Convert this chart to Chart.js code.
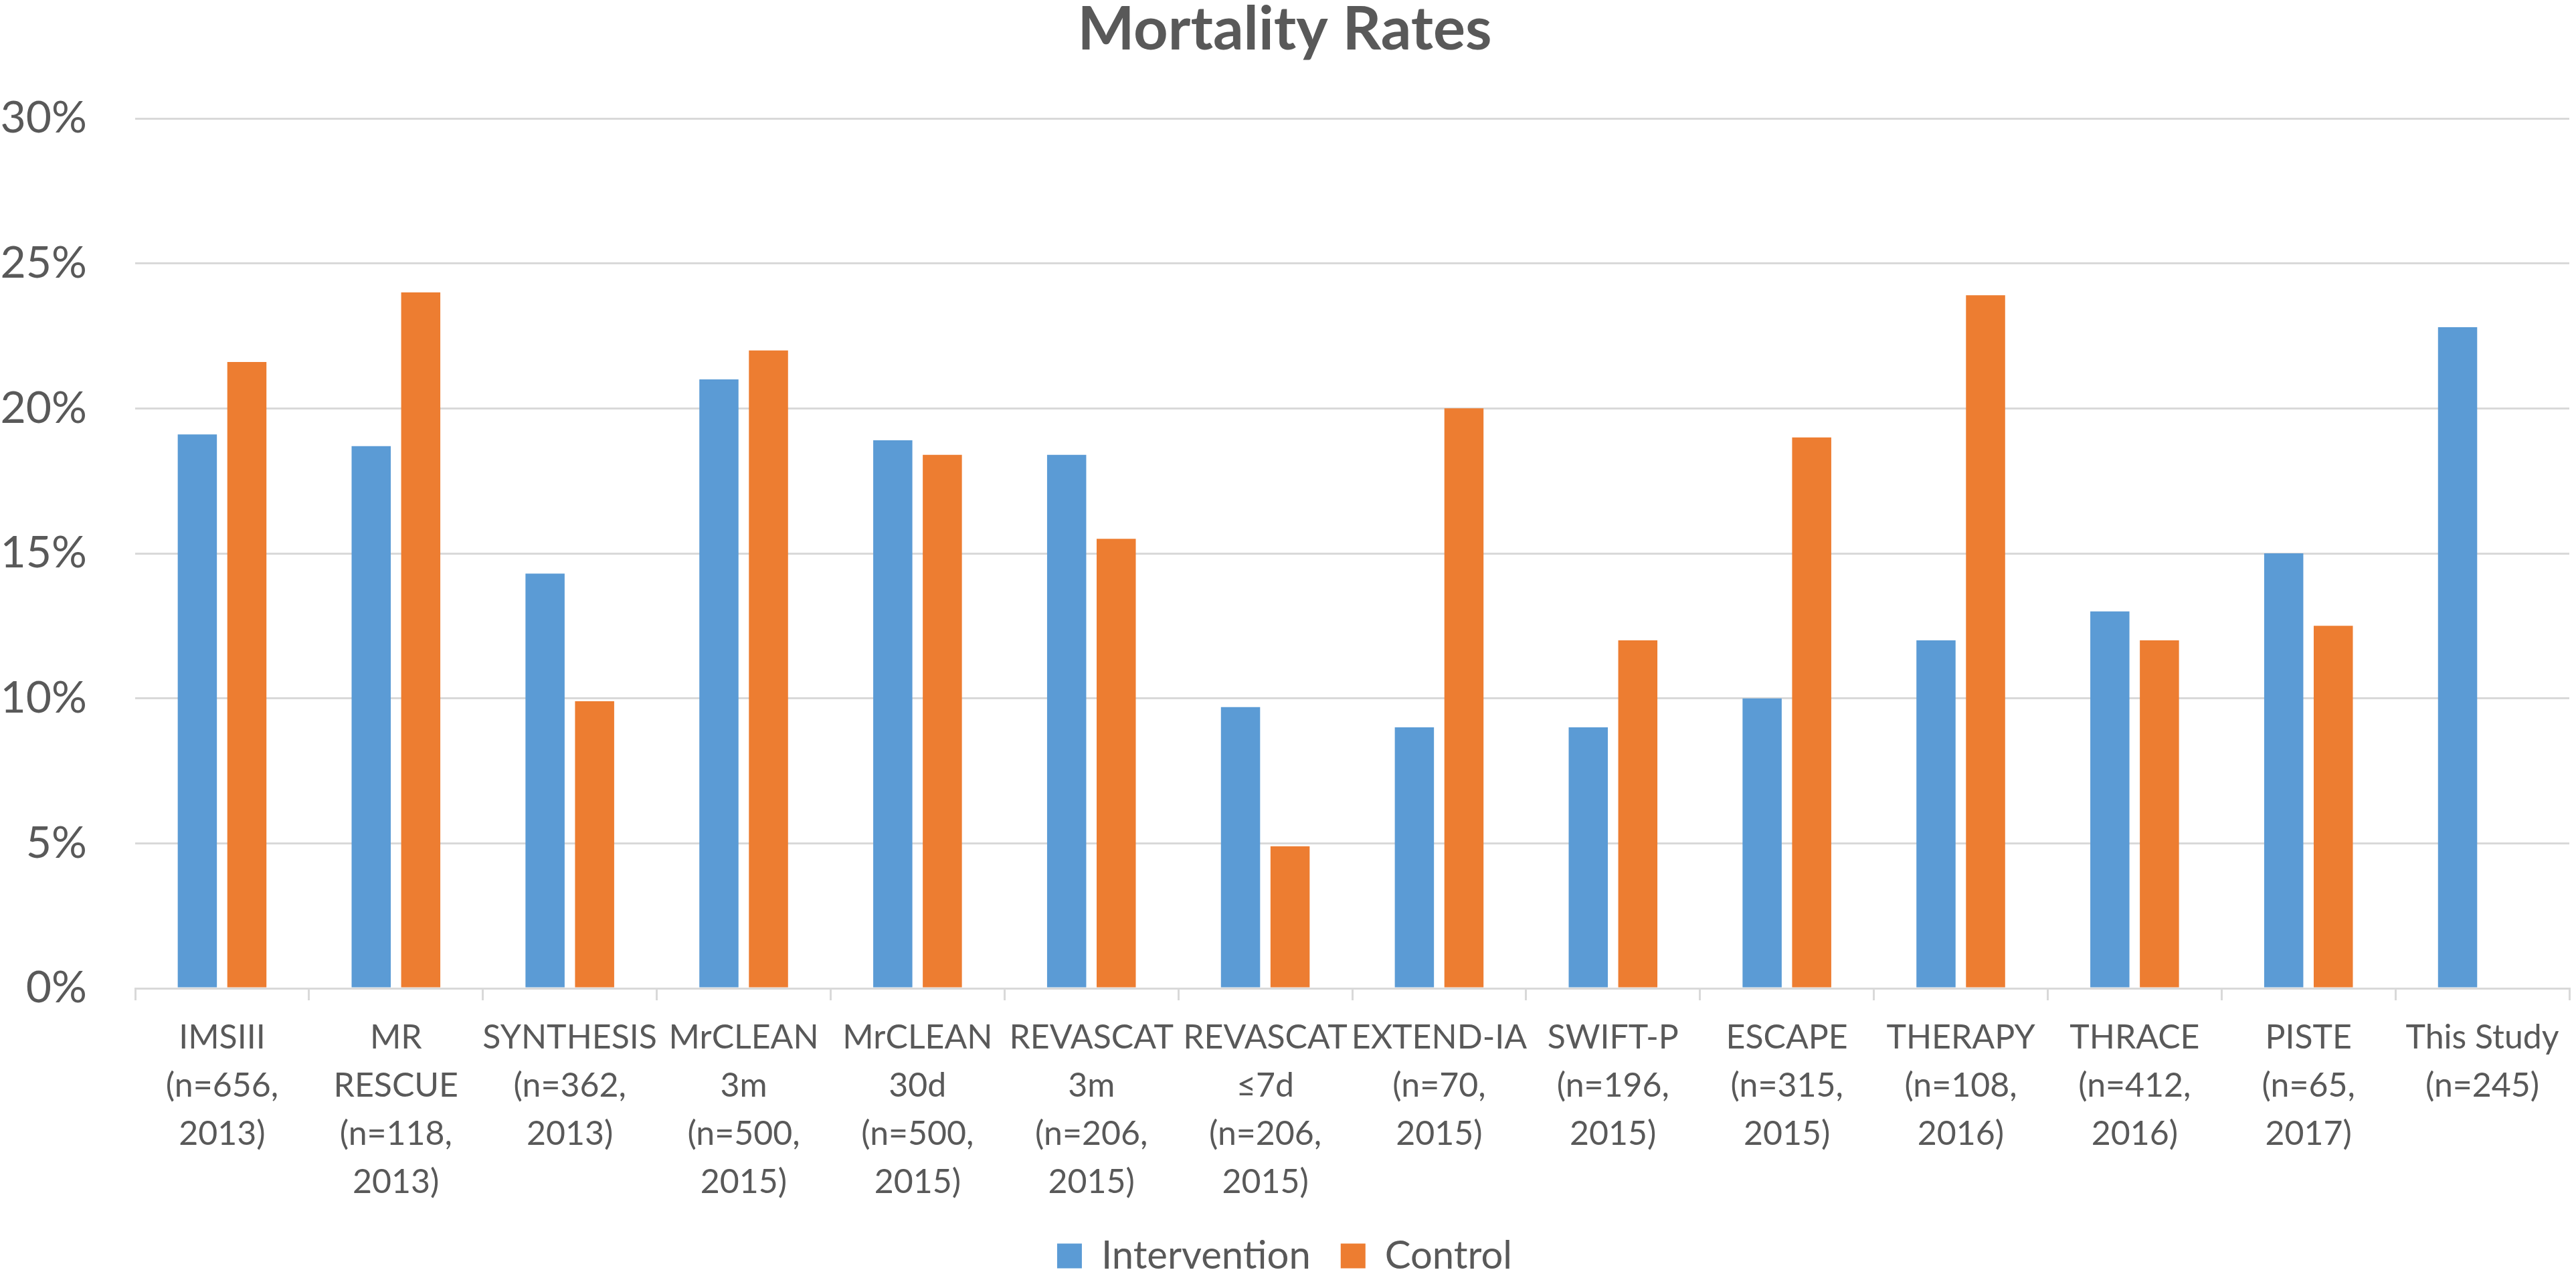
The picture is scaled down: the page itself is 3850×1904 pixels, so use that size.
<!DOCTYPE html>
<html>
<head>
<meta charset="utf-8">
<script src="https://cdn.jsdelivr.net/npm/chart.js@4"></script>
<style>
html,body{margin:0;padding:0;background:#ffffff;}
canvas{display:block;}
</style>
</head>
<body>
<canvas id="c" width="3850" height="1904"></canvas>
<script>
const categories = [
  ["IMSIII","(n=656,","2013)"],
  ["MR","RESCUE","(n=118,","2013)"],
  ["SYNTHESIS","(n=362,","2013)"],
  ["MrCLEAN","3m","(n=500,","2015)"],
  ["MrCLEAN","30d","(n=500,","2015)"],
  ["REVASCAT","3m","(n=206,","2015)"],
  ["REVASCAT","\u22647d","(n=206,","2015)"],
  ["EXTEND-IA","(n=70,","2015)"],
  ["SWIFT-P","(n=196,","2015)"],
  ["ESCAPE","(n=315,","2015)"],
  ["THERAPY","(n=108,","2016)"],
  ["THRACE","(n=412,","2016)"],
  ["PISTE","(n=65,","2017)"],
  ["This Study","(n=245)"]
];
const intervention = [19.1, 18.7, 14.3, 21.0, 18.9, 18.4, 9.7, 9.0, 9.0, 10.0, 12.0, 13.0, 15.0, 22.8];
const control      = [21.6, 24.0, 9.9, 22.0, 18.4, 15.5, 4.9, 20.0, 12.0, 19.0, 23.9, 12.0, 12.5, null];
const seriesNames = ["Intervention", "Control"];
const titleText = "Mortality Rates";

const FONT = "Lato, 'Open Sans', sans-serif";
const TEXT = "#595959";
const GRID = "#d9d9d9";

new Chart(document.getElementById('c'), {
  type: 'bar',
  data: {
    labels: categories,
    datasets: [
      { label: seriesNames[0], data: intervention, backgroundColor: '#5b9bd5', borderWidth: 0,
        categoryPercentage: 0.57, barPercentage: 0.79 },
      { label: seriesNames[1], data: control, backgroundColor: '#ed7d31', borderWidth: 0,
        categoryPercentage: 0.57, barPercentage: 0.79 }
    ]
  },
  options: {
    responsive: false,
    devicePixelRatio: 1,
    animation: false,
    layout: { padding: { left: 0, right: 10, top: 0, bottom: -12 } },
    plugins: {
      tooltip: { enabled: false },
      title: {
        display: true, text: titleText, color: TEXT,
        font: { family: FONT, size: 90, weight: 'bold', lineHeight: 1 },
        padding: { top: 0, bottom: 87 }
      },
      legend: {
        position: 'bottom',
        labels: {
          color: TEXT, boxWidth: 37, boxHeight: 37, padding: 45,
          font: { family: FONT, size: 58 }
        }
      }
    },
    scales: {
      x: {
        afterFit: s => { s.height = 326; },
        grid: { display: true, drawOnChartArea: false, drawTicks: true, tickLength: 18, offset: true, color: GRID, lineWidth: 3 },
        border: { display: true, color: GRID, width: 3 },
        ticks: { color: TEXT, font: { family: FONT, size: 50, lineHeight: 1.44 }, maxRotation: 0, minRotation: 0, autoSkip: false, padding: 20 }
      },
      y: {
        min: 0, max: 30,
        afterFit: s => { s.width = 202; },
        grid: { color: GRID, lineWidth: 3, drawTicks: false },
        border: { display: false },
        ticks: { stepSize: 5, color: TEXT, padding: 72, font: { family: FONT, size: 66 },
          callback: v => v + '%' }
      }
    }
  }
});
</script>
</body>
</html>
